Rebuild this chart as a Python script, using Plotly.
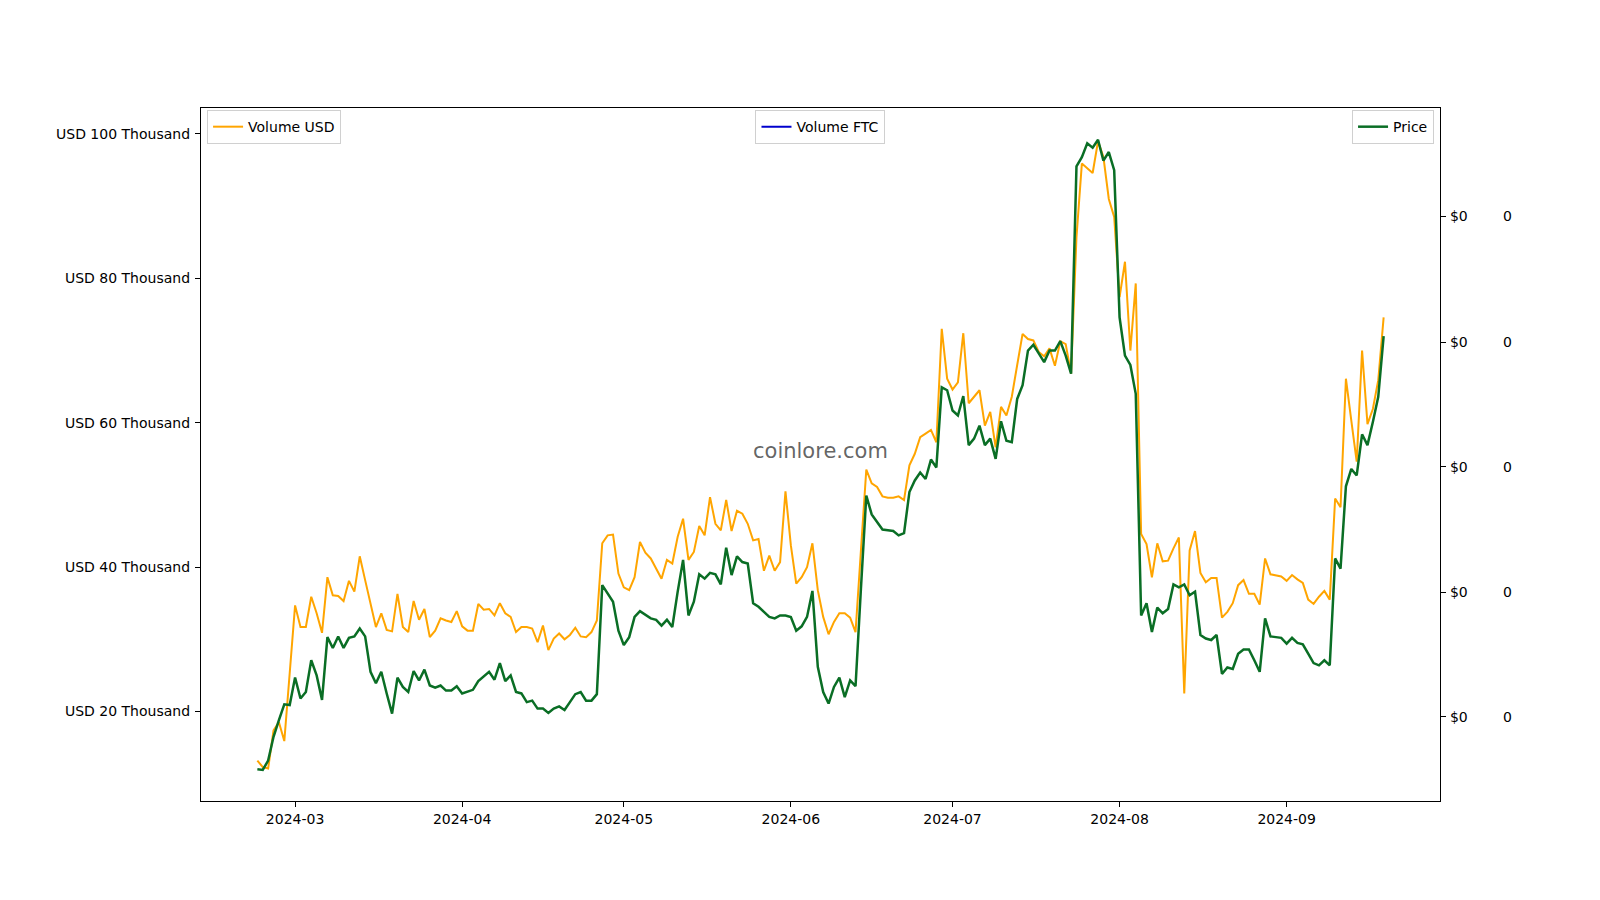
import pandas as pd
import plotly.graph_objects as go

# daily values, 2024-02-23 .. 2024-09-19
dates = pd.date_range("2024-02-23", "2024-09-19", freq="D")

# volume in thousands of USD
volume_usd = [
    13.2, 12.3, 12.1, 17.4, 18.5, 15.9, 25.3, 34.7, 31.7, 31.7,
    35.9, 33.6, 30.9, 38.6, 36.1, 36.0, 35.3, 38.1, 36.6, 41.5,
    38.2, 34.9, 31.7, 33.6, 31.3, 31.1, 36.3, 31.7, 31.0, 35.3,
    32.7, 34.2, 30.3, 31.2, 32.9, 32.6, 32.4, 33.9, 31.8, 31.2,
    31.2, 34.9, 34.1, 34.2, 33.3, 35.0, 33.6, 33.1, 31.0, 31.7,
    31.7, 31.5, 29.6, 31.9, 28.5, 30.1, 30.8, 30.0, 30.6, 31.6,
    30.4, 30.3, 31.0, 32.6, 43.3, 44.4, 44.5, 39.1, 37.2, 36.8,
    38.6, 43.5, 42.0, 41.2, 39.8, 38.4, 41.0, 40.5, 44.2, 46.7,
    41.0, 42.1, 45.7, 44.4, 49.7, 46.0, 45.1, 49.3, 45.0, 47.8,
    47.4, 46.0, 43.7, 43.9, 39.5, 41.6, 39.5, 40.7, 50.5, 43.0,
    37.7, 38.6, 40.0, 43.3, 36.8, 33.1, 30.7, 32.4, 33.6, 33.6,
    33.0, 31.0, 42.3, 53.5, 51.6, 51.1, 49.8, 49.6, 49.6, 49.8,
    49.3, 54.1, 55.7, 58.0, 58.5, 59.0, 57.3, 73.0, 66.1, 64.6,
    65.6, 72.4, 62.7, 63.6, 64.5, 59.6, 61.5, 56.6, 62.2, 61.0,
    63.6, 68.0, 72.3, 71.6, 71.4, 69.8, 69.2, 70.3, 67.9, 71.3,
    70.9, 66.8, 85.7, 95.9, 95.3, 94.6, 99.0, 96.8, 91.0, 88.5,
    77.4, 82.3, 70.0, 79.3, 44.6, 43.2, 38.6, 43.3, 40.8, 40.9,
    42.6, 44.1, 22.5, 42.3, 45.0, 39.2, 37.9, 38.5, 38.5, 33.0,
    33.8, 35.0, 37.5, 38.2, 36.3, 36.3, 34.8, 41.2, 39.0, 38.9,
    38.7, 38.1, 38.9, 38.3, 37.8, 35.5, 34.9, 35.9, 36.7, 35.5,
    49.5, 48.3, 66.1, 60.3, 54.6, 70.0, 59.8, 61.9, 65.9, 74.6,
]

# price in USD
price = [
    0.00120, 0.00119, 0.00132, 0.00165, 0.00188, 0.00210, 0.00209, 0.00247, 0.00218, 0.00227,
    0.00271, 0.00250, 0.00216, 0.00303, 0.00288, 0.00304, 0.00288, 0.00302, 0.00304, 0.00315,
    0.00304, 0.00255, 0.00239, 0.00255, 0.00225, 0.00197, 0.00247, 0.00234, 0.00227, 0.00256,
    0.00243, 0.00258, 0.00236, 0.00233, 0.00236, 0.00229, 0.00229, 0.00235, 0.00225, 0.00227,
    0.00230, 0.00242, 0.00248, 0.00255, 0.00244, 0.00267, 0.00242, 0.00250, 0.00227, 0.00225,
    0.00213, 0.00215, 0.00204, 0.00204, 0.00198, 0.00204, 0.00207, 0.00202, 0.00213, 0.00224,
    0.00227, 0.00215, 0.00215, 0.00224, 0.00375, 0.00363, 0.00352, 0.00312, 0.00292, 0.00303,
    0.00331, 0.00339, 0.00334, 0.00329, 0.00327, 0.00319, 0.00327, 0.00317, 0.00366, 0.00410,
    0.00333, 0.00352, 0.00390, 0.00384, 0.00392, 0.00390, 0.00376, 0.00427, 0.00389, 0.00415,
    0.00407, 0.00405, 0.00350, 0.00345, 0.00338, 0.00331, 0.00329, 0.00333, 0.00333, 0.00331,
    0.00312, 0.00318, 0.00331, 0.00367, 0.00262, 0.00227, 0.00211, 0.00234, 0.00247, 0.00220,
    0.00243, 0.00235, 0.00370, 0.00499, 0.00473, 0.00462, 0.00452, 0.00451, 0.00450, 0.00444,
    0.00447, 0.00504, 0.00520, 0.00531, 0.00522, 0.00549, 0.00538, 0.00649, 0.00645, 0.00617,
    0.00610, 0.00637, 0.00569, 0.00578, 0.00596, 0.00569, 0.00578, 0.00550, 0.00602, 0.00575,
    0.00573, 0.00633, 0.00652, 0.00700, 0.00708, 0.00696, 0.00684, 0.00700, 0.00700, 0.00713,
    0.00693, 0.00668, 0.00955, 0.00968, 0.00987, 0.00981, 0.00992, 0.00963, 0.00975, 0.00950,
    0.00746, 0.00693, 0.00680, 0.00640, 0.00333, 0.00350, 0.00310, 0.00344, 0.00336, 0.00342,
    0.00376, 0.00372, 0.00376, 0.00361, 0.00366, 0.00306, 0.00301, 0.00299, 0.00306, 0.00252,
    0.00261, 0.00259, 0.00280, 0.00286, 0.00286, 0.00271, 0.00255, 0.00329, 0.00304, 0.00303,
    0.00302, 0.00294, 0.00302, 0.00295, 0.00293, 0.00280, 0.00267, 0.00264, 0.00271, 0.00264,
    0.00412, 0.00398, 0.00512, 0.00536, 0.00527, 0.00584, 0.00569, 0.00601, 0.00636, 0.00720,
]

# no FTC volume reported for the period
volume_ftc = [None] * len(dates)

usd_ticks = [20, 40, 60, 80, 100]
usd_tick_labels = ["USD 20 Thousand", "USD 40 Thousand", "USD 60 Thousand",
                   "USD 80 Thousand", "USD 100 Thousand"]
price_ticks = [0.001929, 0.003654, 0.005392, 0.007117, 0.008856]

font = dict(family="DejaVu Sans", size=14, color="black")

fig = go.Figure()
fig.add_trace(go.Scatter(x=dates, y=volume_usd, name="Volume USD", mode="lines",
                         line=dict(color="orange", width=2), yaxis="y", legend="legend",
                         showlegend=True))
fig.add_trace(go.Scatter(x=dates, y=volume_ftc, name="Volume FTC", mode="lines",
                         line=dict(color="mediumblue", width=2), yaxis="y3", legend="legend2",
                         showlegend=True))
fig.add_trace(go.Scatter(x=dates, y=price, name="Price", mode="lines",
                         line=dict(color="#0a6e25", width=2.5), yaxis="y2", legend="legend3",
                         showlegend=True))

legend_style = dict(bgcolor="rgba(255,255,255,0.8)", bordercolor="#d0d0d0", borderwidth=1,
                    font=font, yanchor="top", y=0.997)

fig.update_layout(
    width=1600, height=900,
    showlegend=True,
    paper_bgcolor="white", plot_bgcolor="white",
    margin=dict(l=193, r=60, t=100, b=107),
    font=font,
    xaxis=dict(domain=[0, 0.91982], range=["2024-02-12 13:00", "2024-09-29 11:00"],
               dtick="M1", tickformat="%Y-%m", ticks="outside", ticklen=5, tickcolor="black",
               showline=True, linecolor="black", linewidth=1.3, mirror=True,
               showgrid=False, zeroline=False, automargin=False),
    yaxis=dict(range=[7.6, 103.6], tickvals=usd_ticks, ticktext=usd_tick_labels,
               ticks="outside", ticklen=5, tickcolor="black", ticklabelstandoff=2,
               showline=True, linecolor="black", linewidth=1.3,
               showgrid=False, zeroline=False, automargin=False),
    yaxis2=dict(overlaying="y", side="right", anchor="x",
                range=[0.00076, 0.01036], tickvals=price_ticks, tickformat="$.0f",
                ticks="outside", ticklen=5, tickcolor="black", ticklabelstandoff=1,
                showline=True, linecolor="black", linewidth=1.3,
                showgrid=False, zeroline=False, automargin=False),
    yaxis3=dict(overlaying="y", side="right", anchor="free", position=0.9658,
                range=[0.00076, 0.01036], tickvals=price_ticks, tickformat=".0f",
                ticks="", showline=False, showgrid=False, zeroline=False, automargin=False),
    legend=dict(x=0.0045, xanchor="left", **legend_style),
    legend2=dict(x=0.4599, xanchor="center", **legend_style),
    legend3=dict(x=0.9154, xanchor="right", **legend_style),
    annotations=[dict(text="coinlore.com", x=0.4599, y=0.505, xref="paper", yref="paper",
                      showarrow=False, font=dict(family="DejaVu Sans", size=21,
                                                 color="rgba(60,60,60,0.8)"))],
)

fig.write_html("out.html")
